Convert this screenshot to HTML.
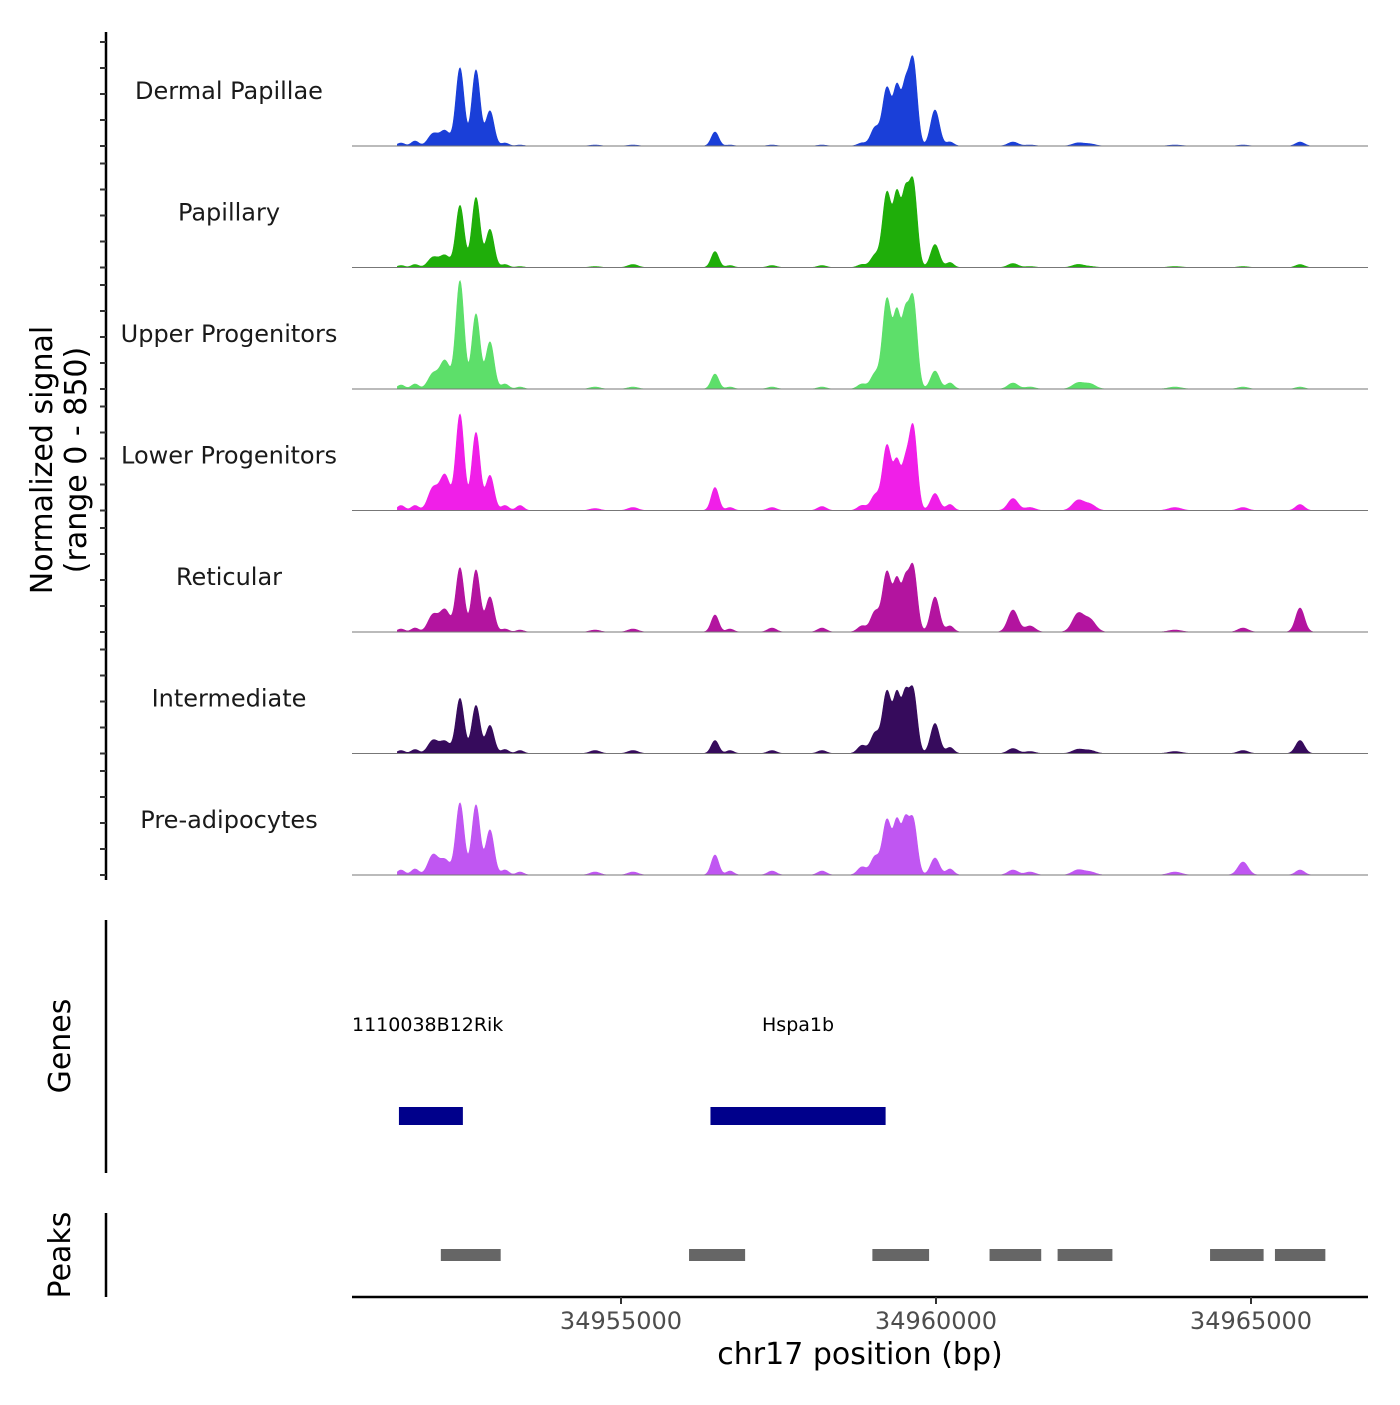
<!DOCTYPE html>
<html><head><meta charset="utf-8"><style>
body{margin:0;background:#fff;}
svg text{font-family:"DejaVu Sans","Liberation Sans",sans-serif;}
</style></head><body>
<svg id="chart" width="1400" height="1400" xmlns="http://www.w3.org/2000/svg"></svg>
<script>
const trackNames=["Dermal Papillae","Papillary","Upper Progenitors","Lower Progenitors","Reticular","Intermediate","Pre-adipocytes"];
const trackColors=["#1a3fd8","#1fae0a","#5ddf6a","#f01fe8","#b3149f","#360b5c","#c056f2"];
const peakCenters=[34951508,34951730,34952016,34952206,34952444,34952698,34952920,34953159,34953397,34954587,34955190,34956492,34956730,34957397,34958190,34958825,34959032,34959222,34959381,34959508,34959635,34959984,34960222,34961222,34961492,34962254,34962444,34963793,34964873,34965778];
const peakWidths=[60,60,80,80,65,65,65,60,60,80,80,60,60,70,70,70,70,70,55,55,65,70,60,80,80,90,90,100,80,70];
const sigDermal=[3,5,12,15,78,76,35,3,1,1,1,14,1,1,1,3,18,58,55,52,86,36,4,4,1,3,2,1,1,4];
const sigPapillary=[2,3,10,12,62,70,38,3,1,1,3,16,2,2,2,3,12,75,68,65,85,23,5,4,1,3,1,1,1,3];
const sigUpper=[4,5,15,28,108,75,47,5,2,2,2,15,2,2,2,5,15,90,70,65,90,18,6,6,2,6,5,2,2,2];
const sigLower=[5,5,22,35,96,78,35,5,5,2,3,23,3,3,4,5,15,65,45,40,84,17,6,12,3,10,6,3,3,6];
const sigReticular=[3,4,17,22,64,62,35,3,2,2,3,17,3,4,4,6,20,60,48,45,65,35,6,22,6,18,12,2,4,24];
const sigIntermediate=[3,4,13,12,55,48,28,4,3,3,3,13,3,3,3,8,20,62,55,52,63,30,6,5,2,4,3,2,3,13];
const sigPreadipo=[5,6,20,15,72,70,45,5,3,3,3,20,4,4,4,8,18,55,50,48,55,17,6,5,3,5,3,3,13,5];
const allSignals=[sigDermal,sigPapillary,sigUpper,sigLower,sigReticular,sigIntermediate,sigPreadipo];
const geneNames=["1110038B12Rik","Hspa1b"];
const geneStarts=[34951475,34956420];
const geneEnds=[34952490,34959200];
const peakStarts=[34952140,34956080,34958990,34960850,34961930,34964350,34965380];
const peakEnds=[34953090,34956970,34959890,34961670,34962800,34965200,34966180];
const xTicks=[34955000,34960000,34965000];
const regionStart=34950730, regionEnd=34966857;
const signalMax=104;

const NS="http://www.w3.org/2000/svg";
const svg=document.getElementById('chart');
const X0=352,X1=1368;
function xs(bp){return X0+(bp-regionStart)/(regionEnd-regionStart)*(X1-X0);}
const TH=121.5, B0=146, SH=104;
function ys(v,base){return base-v/signalMax*SH;}
function mk(tag,attrs,parent){const e=document.createElementNS(NS,tag);for(const k in attrs)e.setAttribute(k,attrs[k]);(parent||svg).appendChild(e);return e;}

let ax=mk('line',{x1:106,y1:32,x2:106,y2:880,stroke:'#000','stroke-width':2.5});


for(let t=0;t<7;t++){
  const base=B0+t*TH;
  for(let k=0;k<5;k++){
    const tk=mk('line',{x1:100,x2:106,y1:base-k*26,y2:base-k*26,stroke:'#333','stroke-width':2});
    
    
  }
}
let yt=mk('text',{transform:'translate(52,460) rotate(-90)','text-anchor':'middle','font-size':30});


yt.innerHTML='<tspan x="0" dy="0">Normalized signal</tspan><tspan x="0" dy="34">(range 0 - 850)</tspan>';

for(let t=0;t<7;t++){
  const base=B0+t*TH;
  const g=mk('g',{});
  
  
  const sig=allSignals[t];
  const startBp=34951450,endBp=34966250;
  let d='M'+xs(startBp)+','+base;
  for(let bp=startBp;bp<=endBp;bp+=12){
    let v=0;
    for(let i=0;i<peakCenters.length;i++){const z=(bp-peakCenters[i])/peakWidths[i];v+=sig[i]*Math.exp(-0.5*z*z);}
    d+=' L'+xs(bp).toFixed(2)+','+ys(v,base).toFixed(2);
  }
  d+=' L'+xs(endBp)+','+base+' Z';
  const a=mk('path',{d:d,fill:trackColors[t],stroke:trackColors[t],'stroke-width':0.6},g);
  
  
  const bl=mk('line',{x1:X0,x2:X1,y1:base,y2:base,stroke:'#777','stroke-width':1},g);
  
  
  const lb=mk('text',{x:229,y:base-47,'text-anchor':'middle','font-size':24,fill:'#1a1a1a'},g);
  
  
  lb.textContent=trackNames[t];
}

let ga=mk('line',{x1:106,y1:920,x2:106,y2:1173,stroke:'#000','stroke-width':2.5});


let gt=mk('text',{transform:'translate(70,1046) rotate(-90)','text-anchor':'middle','font-size':30});


gt.textContent='Genes';
for(let i=0;i<geneNames.length;i++){
  const r=mk('rect',{x:xs(geneStarts[i]),y:1107,width:xs(geneEnds[i])-xs(geneStarts[i]),height:18,fill:'#00008b'});
  
  
  const tx=mk('text',{x:i==0?352:(xs(geneStarts[i])+xs(geneEnds[i]))/2,y:1031,'text-anchor':i==0?'start':'middle','font-size':19,fill:'#000'});
  
  
  tx.textContent=geneNames[i];
}

let pa=mk('line',{x1:106,y1:1213,x2:106,y2:1297,stroke:'#000','stroke-width':2.5});


let pt=mk('text',{transform:'translate(70,1255) rotate(-90)','text-anchor':'middle','font-size':30});


pt.textContent='Peaks';
for(let i=0;i<peakStarts.length;i++){
  const r=mk('rect',{x:xs(peakStarts[i]),y:1249,width:xs(peakEnds[i])-xs(peakStarts[i]),height:12,fill:'#666'});
  
  
}

let xa=mk('line',{x1:X0,x2:X1,y1:1297,y2:1297,stroke:'#000','stroke-width':2.5});


for(const t of xTicks){
  const tk=mk('line',{x1:xs(t),x2:xs(t),y1:1297,y2:1304,stroke:'#333','stroke-width':2});
  
  
  const tl=mk('text',{x:xs(t),y:1329,'text-anchor':'middle','font-size':24,fill:'#4d4d4d'});
  
  
  tl.textContent=t;
}
let xt=mk('text',{x:860,y:1364,'text-anchor':'middle','font-size':30});


xt.textContent='chr17 position (bp)';
</script>
</body></html>
